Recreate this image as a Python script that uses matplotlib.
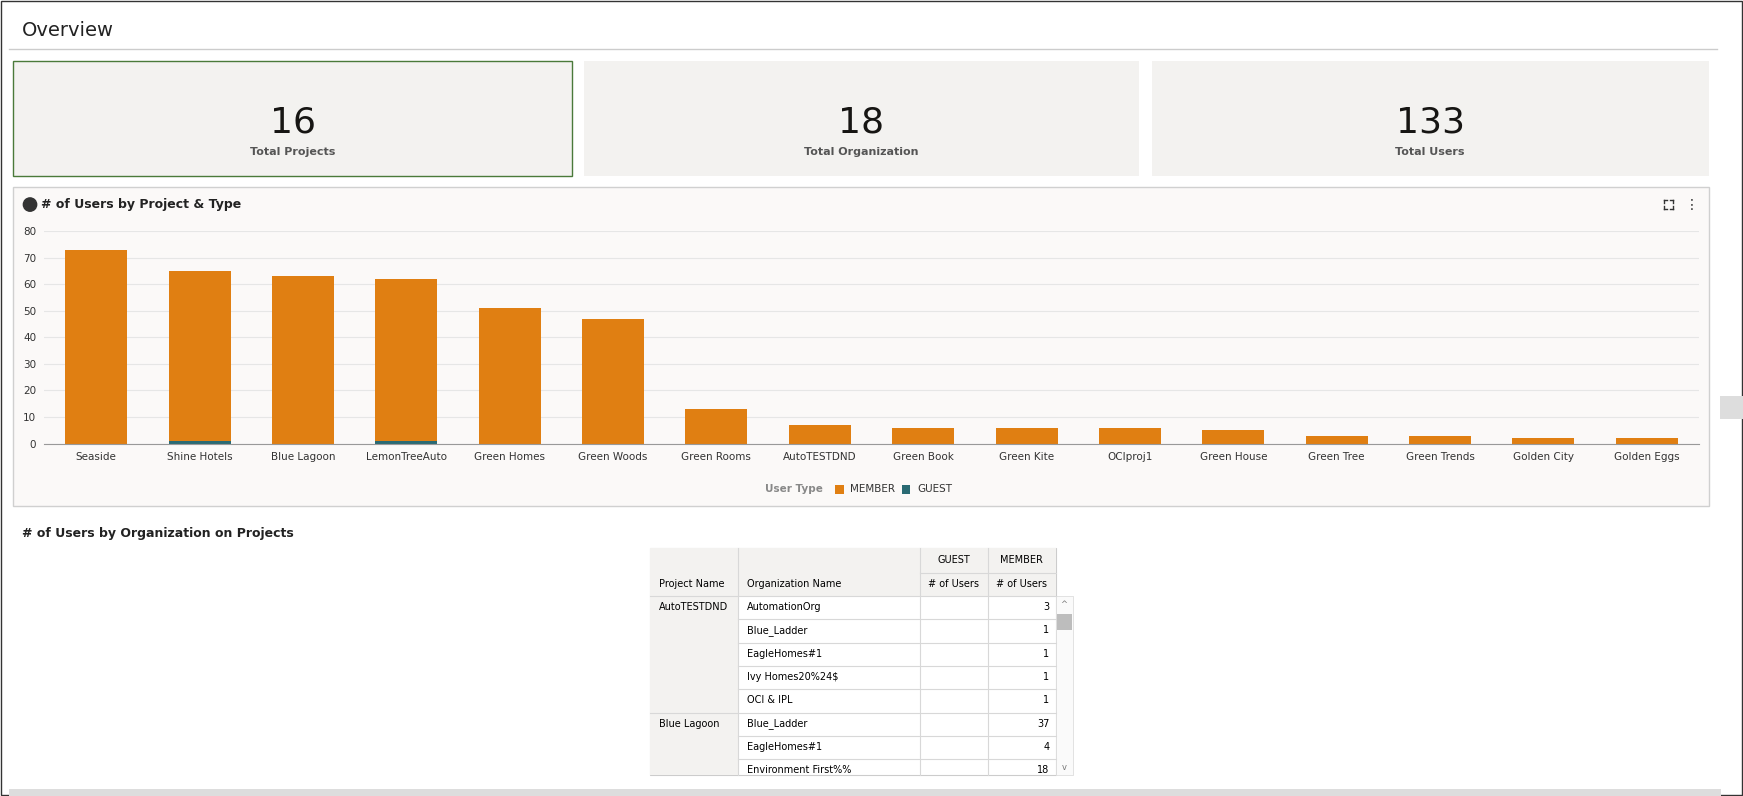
import matplotlib.pyplot as plt
import matplotlib.patches as mpatches

projects = ["Seaside", "Shine Hotels", "Blue Lagoon", "LemonTreeAuto", "Green Homes",
            "Green Woods", "Green Rooms", "AutoTESTDND", "Green Book", "Green Kite",
            "OCIproj1", "Green House", "Green Tree", "Green Trends", "Golden City", "Golden Eggs"]
member = [73, 64, 63, 61, 51, 47, 13, 7, 6, 6, 6, 5, 3, 3, 2, 2]
guest = [0, 1, 0, 1, 0, 0, 0, 0, 0, 0, 0, 0, 0, 0, 0, 0]

kpi_values = ["16", "18", "133"]
kpi_labels = ["Total Projects", "Total Organization", "Total Users"]

table_projects = ["AutoTESTDND", "", "", "", "", "Blue Lagoon", "", ""]
table_orgs = ["AutomationOrg", "Blue_Ladder", "EagleHomes#1", "Ivy Homes20%24$", "OCI & IPL",
              "Blue_Ladder", "EagleHomes#1", "Environment First%%"]
table_members = [3, 1, 1, 1, 1, 37, 4, 18]

ORANGE = "#E07F12"
TEAL = "#2A6A73"
W, H = 1568, 716

fig = plt.figure(figsize=(17.43, 7.96), dpi=100)
bg = fig.add_axes([0, 0, 1, 1])
bg.set_xlim(0, W)
bg.set_ylim(H, 0)
bg.axis("off")

def rect(x0, y0, x1, y1, fc, ec="none", lw=1, z=1):
    bg.add_patch(mpatches.Rectangle((x0, y0), x1 - x0, y1 - y0, facecolor=fc,
                                    edgecolor=ec, linewidth=lw, zorder=z))

rect(0.5, 0.5, W - 1, H - 1, "white", "#333333", 1)
bg.text(20, 27, "Overview", fontsize=14, va="center", color="#222222")
bg.plot([8, 1545], [44, 44], color="#cccccc", lw=1)

cards = [(12, 515), (525, 1025), (1036, 1537)]
for i, (x0, x1) in enumerate(cards):
    rect(x0, 55, x1, 158, "#F3F2F0", "#4A7A3A" if i == 0 else "none", 1)
    cx = (x0 + x1) / 2
    bg.text(cx, 110, kpi_values[i], fontsize=26, ha="center", va="center", color="#161513")
    bg.text(cx, 137, kpi_labels[i], fontsize=8, ha="center", va="center",
            color="#555555", fontweight="bold")

rect(12, 168, 1537, 455, "#FBF9F8", "#d0d0d0", 1)
bg.add_patch(mpatches.Circle((27, 184), 6, color="#333333", zorder=3))
bg.text(37, 184, "# of Users by Project & Type", fontsize=9, fontweight="bold",
        va="center", color="#222222")
# fullscreen icon corners
for sx, sy in [(-1, -1), (1, -1), (-1, 1), (1, 1)]:
    cx, cy = 1501 + 4 * sx, 184 + 4 * sy
    bg.plot([cx, cx - 3 * sx], [cy, cy], color="#333333", lw=1)
    bg.plot([cx, cx], [cy, cy - 3 * sy], color="#333333", lw=1)
bg.text(1522, 184, "⋮", fontsize=10, ha="center", va="center", color="#333333")
rect(1547, 356, 1568, 377, "#dddddd")

# legend
bg.text(740, 440, "User Type", fontsize=7.5, ha="right", va="center", color="#888888", fontweight="bold")
rect(751, 436, 759, 444, ORANGE, z=3)
bg.text(765, 440, "MEMBER", fontsize=7.5, va="center", color="#333333")
rect(811, 436, 819, 444, TEAL, z=3)
bg.text(825, 440, "GUEST", fontsize=7.5, va="center", color="#333333")

ax = fig.add_axes([40 / W, 1 - 399 / H, (1528 - 40) / W, (399 - 208) / H])
ax.set_facecolor("none")
x = range(len(projects))
ax.bar(x, guest, width=0.6, color=TEAL)
ax.bar(x, member, width=0.6, bottom=guest, color=ORANGE)
ax.set_xlim(-0.5, len(projects) - 0.5)
ax.set_ylim(0, 80)
ax.set_yticks(range(0, 81, 10))
ax.set_xticks(list(x))
ax.set_xticklabels(projects)
ax.tick_params(labelsize=7.5, length=0, colors="#333333")
ax.tick_params(axis="x", pad=6)
ax.tick_params(axis="y", pad=6)
ax.grid(axis="y", color="#e6e6e6", lw=0.8)
ax.set_axisbelow(True)
for s in ["top", "right", "left"]:
    ax.spines[s].set_visible(False)
ax.spines["bottom"].set_color("#999999")

bg.text(20, 480, "# of Users by Organization on Projects", fontsize=9, fontweight="bold",
        va="center", color="#222222")

# table
cols = [585, 664, 828, 889, 950, 965]
rows = [536 + 21 * i for i in range(9)]
rows[-1] = 697
rect(585, 493, 950, 697, "white", "#cccccc", 0.8, z=2)
rect(585, 493, 664, 697, "#F3F2F0", z=2)
rect(664, 493, 950, 536, "#F3F2F0", z=2)
lc = "#d8d8d8"
for xv in cols[1:4]:
    bg.plot([xv, xv], [493, 697], color=lc, lw=0.8, zorder=3)
bg.plot([828, 950], [515, 515], color=lc, lw=0.8, zorder=3)
bg.plot([585, 950], [536, 536], color=lc, lw=0.8, zorder=3)
for i, yv in enumerate(rows[1:-1]):
    x0 = 664 if i != 4 else 585
    bg.plot([x0, 950], [yv, yv], color=lc, lw=0.8, zorder=3)
bg.text(858, 504, "GUEST", fontsize=7, ha="center", va="center", zorder=4)
bg.text(919, 504, "MEMBER", fontsize=7, ha="center", va="center", zorder=4)
bg.text(593, 525, "Project Name", fontsize=7, va="center", zorder=4)
bg.text(672, 525, "Organization Name", fontsize=7, va="center", zorder=4)
bg.text(858, 525, "# of Users", fontsize=7, ha="center", va="center", zorder=4)
bg.text(919, 525, "# of Users", fontsize=7, ha="center", va="center", zorder=4)
for i in range(len(table_orgs)):
    yc = rows[i] + 10
    if table_projects[i]:
        bg.text(593, yc, table_projects[i], fontsize=7, va="center", zorder=4)
    bg.text(672, yc, table_orgs[i], fontsize=7, va="center", zorder=4)
    bg.text(944, yc, str(table_members[i]), fontsize=7, ha="right", va="center", zorder=4)
rect(950, 536, 965, 697, "#fafafa", "#dddddd", 0.6, z=2)
rect(951, 552, 964, 567, "#bdbdbd", z=3)
bg.text(957, 544, "^", fontsize=6, ha="center", va="center", color="#777777", zorder=4)
bg.text(957, 690, "v", fontsize=6, ha="center", va="center", color="#777777", zorder=4)
rect(8, 710, 1548, 716, "#dddddd")

fig.savefig("out.png", dpi=100)
